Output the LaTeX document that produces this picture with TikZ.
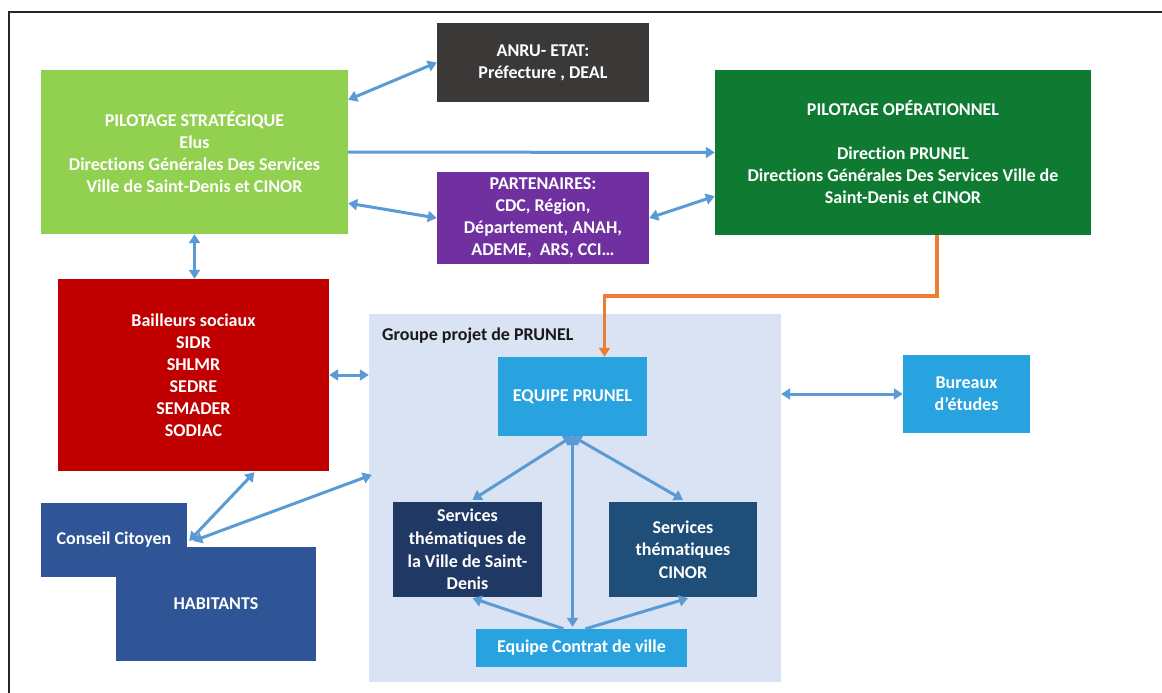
\documentclass[tikz,border=0pt]{standalone}
\usepackage{fontspec}
\setmainfont{Carlito}[RawFeature={-liga;-clig;-dlig;-calt}]
\usetikzlibrary{arrows.meta,calc}
\definecolor{cPS}{HTML}{92D050}
\definecolor{cAnru}{HTML}{3B3838}
\definecolor{cPart}{HTML}{7030A0}
\definecolor{cPO}{HTML}{0F7A31}
\definecolor{cBail}{HTML}{C00000}
\definecolor{cGrp}{HTML}{DAE3F3}
\definecolor{cBlue}{HTML}{29A3DF}
\definecolor{cSV}{HTML}{203864}
\definecolor{cCin}{HTML}{1F4E79}
\definecolor{cCons}{HTML}{2F5597}
\definecolor{cArr}{HTML}{5B9BD5}
\definecolor{cOra}{HTML}{ED7D31}
\tikzset{
  boxstyle/.style={rectangle, inner sep=0pt, text=white, align=center,
    font=\bfseries\fontsize{18}{22}\selectfont},
  arrtwo/.style={draw=cArr, line width=3pt, {Triangle[length=9pt,width=11pt]}-{Triangle[length=9pt,width=11pt]}},
  arrone/.style={draw=cArr, line width=3pt, -{Triangle[length=9pt,width=11pt]}},
}
\begin{document}
\begin{tikzpicture}[x=1pt,y=-1pt]
\useasboundingbox[fill=white] (0,0) rectangle (1162,693);
\draw[line width=1.2pt, draw=black!85] (9,693) -- (9,12) -- (1162,12);
% boxes
\node[boxstyle, fill=cPS, minimum width=307pt, minimum height=164pt] (ps) at (194.5,152)
  {PILOTAGE STRATÉGIQUE\\Elus\\Directions Générales Des Services\\Ville de Saint-Denis et CINOR};
\node[boxstyle, fill=cAnru, minimum width=212pt, minimum height=79pt] (anru) at (543,62.5)
  {ANRU- ETAT:\\Préfecture , DEAL};
\node[boxstyle, fill=cPart, minimum width=212pt, minimum height=92pt] (part) at (543,218)
  {PARTENAIRES:\\CDC, Région,\\Département, ANAH,\\ADEME,\ \ ARS, CCI\dots};
\node[boxstyle, fill=cPO, minimum width=376pt, minimum height=165pt] (po) at (903,152.5)
  {PILOTAGE OPÉRATIONNEL\\[22pt]Direction PRUNEL\\Directions Générales Des Services Ville de\\Saint-Denis et CINOR};
\node[boxstyle, fill=cBail, minimum width=271pt, minimum height=192pt] (bail) at (193.5,375)
  {Bailleurs sociaux\\SIDR\\SHLMR\\SEDRE\\SEMADER\\SODIAC};
\node[rectangle, inner sep=0pt, fill=cGrp, minimum width=412pt, minimum height=368pt] (grp) at (575,498) {};
\node[anchor=west, inner sep=0pt, font=\bfseries\fontsize{18}{22}\selectfont, text=black!90] (grplab) at (382,336) {Groupe projet de PRUNEL};
\node[boxstyle, fill=cBlue, minimum width=149pt, minimum height=79pt] (eq) at (572.5,396.5) {EQUIPE PRUNEL};
\node[boxstyle, fill=cBlue, minimum width=127pt, minimum height=78pt] (bur) at (966.5,394) {Bureaux\\d’études};
\node[boxstyle, fill=cSV, minimum width=149pt, minimum height=95pt, font=\bfseries\fontsize{18}{22.7}\selectfont] (sv) at (467.5,549.5)
  {Services\\thématiques de\\la Ville de Saint-\\Denis};
\node[boxstyle, fill=cCin, minimum width=148pt, minimum height=95pt, font=\bfseries\fontsize{18}{22.7}\selectfont] (cin) at (683,549.5)
  {Services\\thématiques\\CINOR};
\node[boxstyle, fill=cBlue, minimum width=211pt, minimum height=38pt] (cv) at (581.5,648) {Equipe Contrat de ville};
\node[boxstyle, fill=cCons, minimum width=146pt, minimum height=74pt] (cons) at (114,540) {Conseil Citoyen};
\node[boxstyle, fill=cCons, minimum width=200pt, minimum height=114pt] (hab) at (216,604) {HABITANTS};
% connectors
\draw[arrtwo] ($(ps.north east)+(0,30)$) -- (anru.west);
\draw[arrone] (ps.east) -- (po.west);
\draw[arrtwo] ($(ps.south east)+(0,-31)$) -- (part.west);
\draw[arrtwo] (part.east) -- ($(po.south west)+(0,-39)$);
\draw[arrtwo] (ps.south) -- (ps.south |- bail.north);
\draw[arrtwo] (bail.east) -- (bail.east -| grp.west);
\draw[arrtwo] ($(cons.east)+(2,1)$) -- ($(bail.south)+(61,1)$);
\draw[arrtwo] ($(cons.east)+(6,1)$) -- ($(grp.north west)+(3,161)$);
\draw[arrtwo] (bur.west) -- (bur.west -| grp.east);
\draw[draw=cOra, line width=3.5pt, -{Triangle[length=9pt,width=11pt]}]
  ($(po.south)+(34,0)$) |- ($(eq.north)+(32,-61)$) -- ($(eq.north)+(32,0)$);
\draw[arrtwo] (eq.south) -- ($(sv.north)+(5,-2)$);
\draw[arrtwo] (eq.south) -- ($(cin.north)+(0,-2)$);
\draw[arrtwo] (eq.south) -- ($(eq.south |- cv.north)+(0,-2)$);
\draw[arrone] ($(cv.north)+(-18,0)$) -- ($(sv.south)+(5,1)$);
\draw[arrone] ($(cv.north)+(4,0)$) -- ($(cin.south)+(5,1)$);
\end{tikzpicture}
\end{document}
